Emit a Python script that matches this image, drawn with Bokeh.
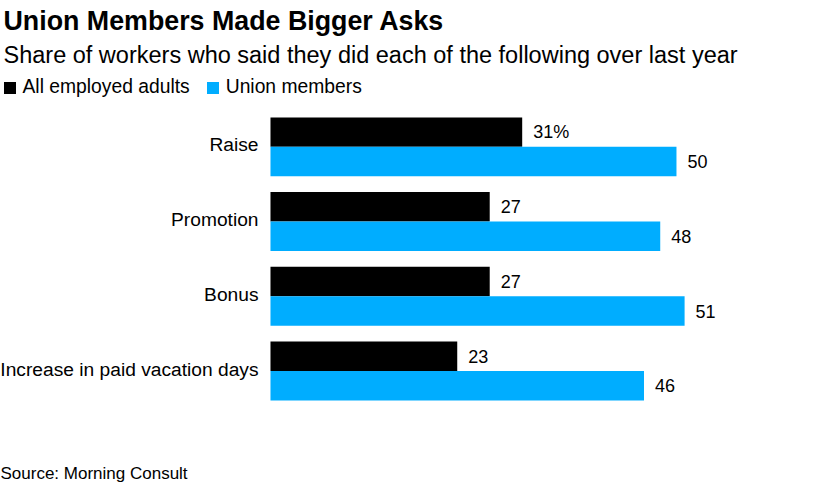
from bokeh.plotting import figure
from bokeh.models import ColumnDataSource, Label, Legend, LegendItem, Range1d
from bokeh.transform import dodge
from bokeh.core.properties import value
from bokeh.embed import file_html
from bokeh.resources import INLINE

# ---- data ----
categories = ["Raise", "Promotion", "Bonus", "Increase in paid vacation days"]
all_adults = [31, 27, 27, 23]
union_members = [50, 48, 51, 46]
all_labels = ["31%", "27", "27", "23"]
union_labels = ["50", "48", "51", "46"]

title_text = "Union Members Made Bigger Asks"
subtitle_text = "Share of workers who said they did each of the following over last year"
source_text = "Source: Morning Consult"

FONT = "Liberation Sans"
BLACK = "#000000"
BLUE = "#00adff"

W, H = 824, 486

src = ColumnDataSource(dict(idx=list(range(len(categories))), base=[0] * len(categories),
                            cat=categories, a=all_adults, u=union_members,
                            al=all_labels, ul=union_labels))

p = figure(width=W, height=H,
           x_range=Range1d(-33.25, 68.23),
           y_range=Range1d(4.545, -1.958),
           x_axis_location=None, y_axis_location=None,
           toolbar_location=None, output_backend="svg",
           min_border=0)

p.outline_line_color = None
p.grid.visible = False
p.background_fill_color = "white"
p.border_fill_color = "white"

OFF = 0.197
BH = 0.394
r_a = p.hbar(y=dodge("idx", -OFF), right="a", left="base", height=BH,
             source=src, fill_color=BLACK, line_color=None)
r_u = p.hbar(y=dodge("idx", OFF), right="u", left="base", height=BH,
             source=src, fill_color=BLUE, line_color=None)

# category labels (left of bars)
p.text(x="base", y="idx", text="cat", source=src,
       x_offset=-12, y_offset=-2, text_baseline="middle", text_align="right",
       text_font=value(FONT), text_font_size="19.2px", text_color="#000000")

# value labels
p.text(x="a", y=dodge("idx", -OFF), text="al", source=src,
       x_offset=11, text_baseline="middle", text_align="left",
       text_font=value(FONT), text_font_size="18px", text_color="#000000")
p.text(x="u", y=dodge("idx", OFF), text="ul", source=src,
       x_offset=11, text_baseline="middle", text_align="left",
       text_font=value(FONT), text_font_size="18px", text_color="#000000")

legend = Legend(items=[LegendItem(label="All employed adults", renderers=[r_a]),
                       LegendItem(label="Union members", renderers=[r_u])],
                orientation="horizontal", location=(1.5, 388),
                padding=0, margin=0, spacing=15, label_standoff=6,
                glyph_width=15, glyph_height=15, label_height=20,
                label_text_font=FONT, label_text_font_size="19.3px",
                label_text_color="#000000",
                border_line_color=None, background_fill_alpha=0)
p.add_layout(legend, "center")

p.add_layout(Label(x=3, y=466, x_units="screen", y_units="screen",
                   text=title_text,
                   text_font=FONT, text_font_style="bold", text_font_size="26.8px",
                   text_color="#000000", text_baseline="alphabetic"))
p.add_layout(Label(x=3, y=432, x_units="screen", y_units="screen",
                   text=subtitle_text,
                   text_font=FONT, text_font_size="23.5px",
                   text_color="#000000", text_baseline="alphabetic"))
p.add_layout(Label(x=0, y=13, x_units="screen", y_units="screen",
                   text=source_text,
                   text_font=FONT, text_font_size="17px",
                   text_color="#000000", text_baseline="alphabetic"))

open("out.html", "w").write(file_html(p, INLINE))
